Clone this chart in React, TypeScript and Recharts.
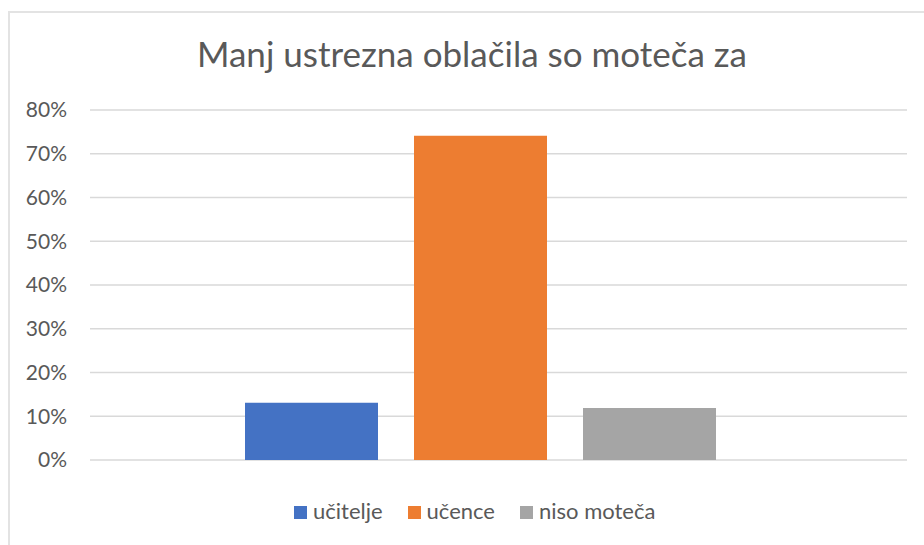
import React from "react";
import { BarChart, Bar, XAxis, YAxis, CartesianGrid, Legend } from "recharts";

const categories = [""];
const seriesNames = ["učitelje", "učence", "niso moteča"];
const seriesKeys = ["ucitelje", "ucence", "niso"];
const seriesColors = ["#4472C4", "#ED7D31", "#A5A5A5"];
const uciteljeValues = [0.131];
const ucenceValues = [0.741];
const nisoValues = [0.119];
const yTicks = [0, 0.1, 0.2, 0.3, 0.4, 0.5, 0.6, 0.7, 0.8];
const title = "Manj ustrezna oblačila so moteča za";

const data = categories.map((c, i) => ({
  name: c,
  ucitelje: uciteljeValues[i],
  ucence: ucenceValues[i],
  niso: nisoValues[i],
}));

const FONT = "Lato, 'Open Sans', sans-serif";
const TEXT = "#595959";

const LegendContent = (props: any) => {
  const payload = [...(props.payload || [])].sort(
    (a: any, b: any) => seriesNames.indexOf(a.value) - seriesNames.indexOf(b.value)
  );
  return (
    <div style={{ display: "flex", alignItems: "center", fontFamily: FONT, fontSize: 22, lineHeight: "26px", color: TEXT, whiteSpace: "nowrap" }}>
      {payload.map((p: any, i: number) => (
        <div key={i} style={{ display: "flex", alignItems: "center", marginRight: i < payload.length - 1 ? 25 : 0 }}>
          <span style={{ display: "inline-block", width: 13, height: 13, background: p.color, marginRight: 6, marginTop: 2 }} />
          <span>{p.value}</span>
        </div>
      ))}
    </div>
  );
};

export default function App() {
  return (
    <div style={{ position: "absolute", left: 0, top: 0, width: 924, height: 545, overflow: "hidden", background: "#fff" }}>
      <div style={{ position: "absolute", left: 8, top: 11, width: 960, height: 600, border: "2px solid #E3E3E3", boxSizing: "border-box" }} />
      <div style={{ position: "absolute", left: 0, top: 0 }}>
        <BarChart
          width={924}
          height={545}
          data={data}
          margin={{ top: 110, right: 17, bottom: 85, left: 0 }}
          barSize={133}
          barGap={36}
        >
          <text x={472} y={67} textAnchor="middle" fontFamily={FONT} fontSize={35} fill={TEXT}>
            {title}
          </text>
          <CartesianGrid vertical={false} stroke="#D9D9D9" strokeWidth={1.3} />
          <XAxis dataKey="name" hide padding={{ left: 0, right: 36 }} />
          <YAxis
            width={90}
            domain={[0, 0.8]}
            ticks={yTicks}
            tickFormatter={(v: number) => `${Math.round(v * 100)}%`}
            axisLine={false}
            tickLine={false}
            tickSize={0}
            tickMargin={23}
            tick={{ fill: TEXT, fontSize: 21, fontFamily: FONT }}
          />
          <Legend
            verticalAlign="middle"
            content={<LegendContent />}
            wrapperStyle={{ top: 498, left: 294, width: "auto" }}
          />
          {seriesKeys.map((k, i) => (
            <Bar key={k} dataKey={k} name={seriesNames[i]} fill={seriesColors[i]} isAnimationActive={false} />
          ))}
        </BarChart>
      </div>
    </div>
  );
}
